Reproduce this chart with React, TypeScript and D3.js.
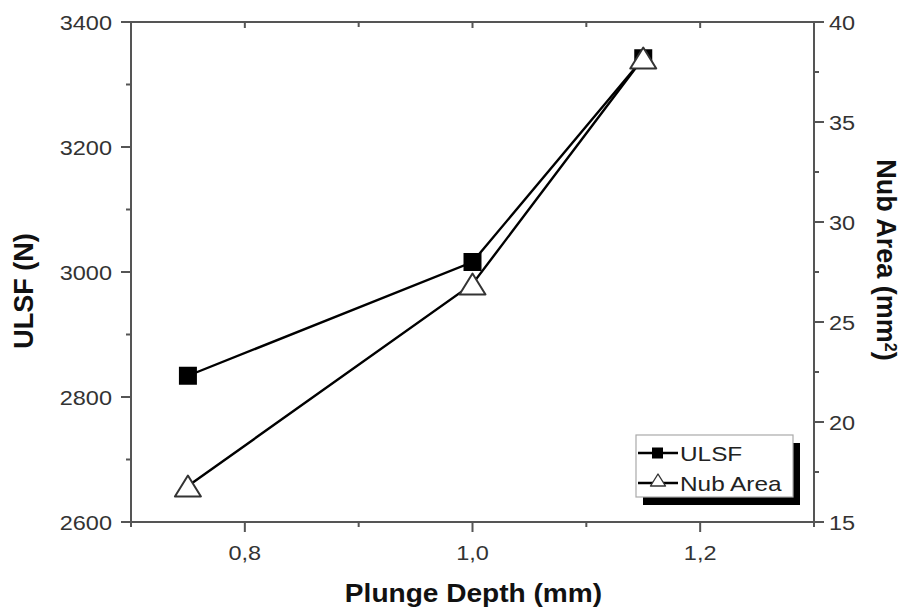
import React from 'react';
import * as d3 from 'd3';

const width = 908;
const height = 614;
const margin = { top: 22, right: 94, bottom: 92, left: 131 };

const depths = [0.75, 1.0, 1.15];
const ulsf = [2834, 3016, 3342];
const nubArea = [16.8, 26.9, 38.2];
const xTicks = [0.8, 1.0, 1.2];
const xMinor = [0.7, 0.9, 1.1, 1.3];
const leftTicks = [2600, 2800, 3000, 3200, 3400];
const leftMinor = [2700, 2900, 3100, 3300];
const rightTicks = [15, 20, 25, 30, 35, 40];
const rightMinor = [17.5, 22.5, 27.5, 32.5, 37.5];

const x = d3.scaleLinear().domain([0.7, 1.3]).range([margin.left, width - margin.right]);
const yL = d3.scaleLinear().domain([2600, 3400]).range([height - margin.bottom, margin.top]);
const yR = d3.scaleLinear().domain([15, 40]).range([height - margin.bottom, margin.top]);

const axisColor = '#555';
const font = 'Arial, "Liberation Sans", sans-serif';
const fmt = (v: number) => v.toFixed(1).replace('.', ',');

// hollow triangle, base w, height h, centred on its box
const tri = (w: number, h: number) => `M0,${-h / 2}L${w / 2},${h / 2}L${-w / 2},${h / 2}Z`;

// text squeezed wider, as in the source picture
const Label = ({ x, y, anchor, children, size = 21, weight = 'normal', fill = '#333', sx = 1.12 }: any) => (
  <g transform={`translate(${x},${y}) scale(${sx},1)`}>
    <text textAnchor={anchor} fontSize={size} fontWeight={weight} fill={fill}>{children}</text>
  </g>
);

const App = () => {
  const x0 = margin.left;
  const x1 = width - margin.right;
  const y0 = height - margin.bottom;
  const y1 = margin.top;

  const ulsfLine = d3.line<number>().x((d, i) => x(depths[i])).y(d => yL(d))(ulsf) || '';
  const nubLine = d3.line<number>().x((d, i) => x(depths[i])).y(d => yR(d))(nubArea) || '';

  const lx = 636;
  const ly = 435;
  const lw = 157;
  const lh = 62;

  return (
    <svg width={width} height={height} style={{ position: 'absolute', left: 0, top: 0, background: '#fff' }} fontFamily={font}>
      {/* frame */}
      <rect x={x0} y={y1} width={x1 - x0} height={y0 - y1} fill="none" stroke={axisColor} strokeWidth={2} />

      {/* bottom / top axis */}
      {xTicks.map(t => (
        <g key={'xb' + t}>
          <line x1={x(t)} x2={x(t)} y1={y0} y2={y0 + 10} stroke={axisColor} strokeWidth={2} />
          <line x1={x(t)} x2={x(t)} y1={y1} y2={y1 + 6} stroke={axisColor} strokeWidth={2} />
          <Label x={x(t)} y={y0 + 38} anchor="middle">{fmt(t)}</Label>
        </g>
      ))}
      {xMinor.map(t => (
        <g key={'xm' + t}>
          <line x1={x(t)} x2={x(t)} y1={y0} y2={y0 + 5} stroke={axisColor} strokeWidth={2} />
          <line x1={x(t)} x2={x(t)} y1={y1} y2={y1 + 5} stroke={axisColor} strokeWidth={2} />
        </g>
      ))}

      {/* left axis */}
      {leftTicks.map(t => (
        <g key={'yl' + t}>
          <line x1={x0 - 10} x2={x0} y1={yL(t)} y2={yL(t)} stroke={axisColor} strokeWidth={2} />
          <Label x={x0 - 19} y={yL(t) + 7.5} anchor="end">{t}</Label>
        </g>
      ))}
      {leftMinor.map(t => (
        <line key={'ylm' + t} x1={x0 - 5} x2={x0} y1={yL(t)} y2={yL(t)} stroke={axisColor} strokeWidth={2} />
      ))}

      {/* right axis */}
      {rightTicks.map(t => (
        <g key={'yr' + t}>
          <line x1={x1} x2={x1 + 10} y1={yR(t)} y2={yR(t)} stroke={axisColor} strokeWidth={2} />
          <Label x={x1 + 15} y={yR(t) + 7.5} anchor="start">{t}</Label>
        </g>
      ))}
      {rightMinor.map(t => (
        <line key={'yrm' + t} x1={x1} x2={x1 + 5} y1={yR(t)} y2={yR(t)} stroke={axisColor} strokeWidth={2} />
      ))}

      {/* axis titles */}
      <Label x={(x0 + x1) / 2 + 1} y={602} anchor="middle" size={26} weight="bold" fill="#111" sx={1.08}>Plunge Depth (mm)</Label>
      <text transform={`translate(33,291) rotate(-90)`} textAnchor="middle" fontSize={27} fontWeight="bold" fill="#111">ULSF (N)</text>
      <text transform={`translate(877,260) rotate(90)`} textAnchor="middle" fontSize={27} fontWeight="bold" fill="#111">
        Nub Area (mm<tspan baselineShift="super" fontSize={16}>2</tspan>)
      </text>

      {/* series */}
      <path d={ulsfLine} fill="none" stroke="#000" strokeWidth={2.4} />
      <path d={nubLine} fill="none" stroke="#000" strokeWidth={2.4} />
      {ulsf.map((v, i) => (
        <rect key={'s' + i} x={x(depths[i]) - 9} y={yL(v) - 9} width={18} height={18} fill="#000" />
      ))}
      {nubArea.map((v, i) => (
        <path key={'t' + i} d={tri(26, 21)} transform={`translate(${x(depths[i])},${yR(v)})`} fill="#fff" stroke="#333" strokeWidth={2} strokeLinejoin="round" />
      ))}

      {/* legend */}
      <rect x={lx + 7} y={ly + 8} width={lw} height={lh} fill="#000" />
      <rect x={lx} y={ly} width={lw} height={lh} fill="#fff" stroke="#aaa" strokeWidth={1.2} />
      <line x1={lx + 2} x2={lx + 42} y1={ly + 18} y2={ly + 18} stroke="#000" strokeWidth={2.4} />
      <rect x={lx + 16} y={ly + 12.5} width={11} height={11} fill="#000" />
      <Label x={lx + 44} y={ly + 26} anchor="start" fill="#222" sx={1.16}>ULSF</Label>
      <line x1={lx + 2} x2={lx + 42} y1={ly + 48} y2={ly + 48} stroke="#000" strokeWidth={2.4} />
      <path d={tri(15, 12)} transform={`translate(${lx + 22},${ly + 45})`} fill="#fff" stroke="#333" strokeWidth={1.4} strokeLinejoin="round" />
      <Label x={lx + 44} y={ly + 56} anchor="start" fill="#222" sx={1.16}>Nub Area</Label>
    </svg>
  );
};

export default App;
